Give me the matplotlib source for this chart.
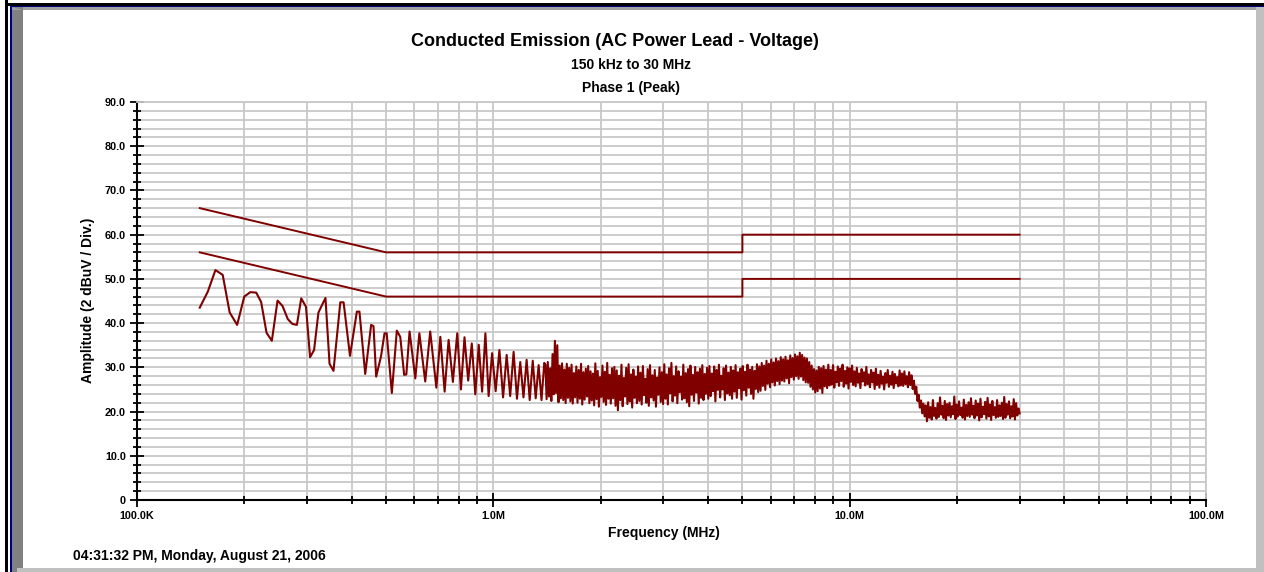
import numpy as np
import matplotlib
matplotlib.use("Agg")
import matplotlib.pyplot as plt
from matplotlib.patches import Rectangle, Polygon
from matplotlib.ticker import FixedLocator, FixedFormatter, NullFormatter

plt.rcParams['font.family'] = ['Liberation Sans', 'DejaVu Sans']
plt.rcParams['font.weight'] = 'bold'

W, H = 1264, 572
RED = '#800000'
GRID = '#c8c8c8'

# limit lines (Hz, dBuV)
limit_freq = [150e3, 500e3, 5e6, 5e6, 30e6]
limit_qp = [66, 56, 56, 60, 60]
limit_avg = [56, 46, 46, 50, 50]

# measured trace, low band (kHz, dBuV)
low_khz = [150, 158, 166, 174, 182, 191, 200, 208, 216, 223,
           231, 239, 248, 256, 265, 273, 281, 289, 298, 306,
           314, 323, 338, 347, 356, 372, 380, 396, 414, 421,
           437, 454, 461, 469, 484, 495, 502, 519, 536, 548,
           562, 570, 582, 604, 620, 644, 665, 692, 710, 730,
           749, 770, 792, 811, 830, 850, 870, 890, 910, 930,
           950, 970, 992, 1015, 1040, 1065, 1090, 1115, 1140, 1165,
           1190, 1215, 1240, 1265, 1290, 1315, 1340, 1365, 1390]
low_db = [43.5, 47.1, 52.0, 50.9, 42.4, 39.6, 46.0, 47.0, 46.9, 44.8,
          37.8, 36.0, 45.1, 43.9, 40.9, 39.8, 39.6, 45.6, 43.7, 32.3,
          33.9, 42.4, 45.7, 30.8, 29.2, 44.7, 44.7, 32.6, 42.6, 42.6,
          28.5, 39.6, 39.3, 27.9, 32.5, 37.7, 37.7, 24.2, 38.3, 36.9,
          28.3, 28.4, 38.1, 27.5, 37.7, 26.8, 38.1, 25.4, 36.9, 24.5,
          36.2, 26.7, 37.7, 25.0, 36.8, 27.0, 35.4, 23.9, 35.1, 24.5,
          37.7, 23.5, 33.2, 24.6, 33.9, 23.2, 32.8, 23.5, 33.5, 22.9,
          31.2, 23.2, 31.7, 22.6, 31.5, 23.0, 30.5, 22.6, 31.0]

# measured trace, dense band 1.4 MHz .. 30 MHz (sweep points)
dense_start, dense_stop = 1.4e6, 30e6
dense_db = [
    30.6, 22.8, 31.2, 23.4, 29.8, 22.4, 33.0, 23.9, 36.0, 24.2, 35.0, 22.1, 30.4, 23.0, 30.9, 22.6, 29.5, 21.9, 30.8, 23.1,
    29.9, 22.3, 30.6, 21.8, 28.7, 23.2, 30.2, 22.0, 29.4, 22.9, 30.8, 21.6, 28.9, 22.7, 29.7, 23.4, 30.3, 21.9, 29.1, 22.5,
    28.6, 21.4, 30.9, 22.8, 29.2, 21.1, 27.8, 23.3, 30.4, 22.2, 29.0, 21.5, 31.0, 22.9, 28.3, 21.8, 29.8, 23.0, 30.1, 21.3,
    29.3, 20.3, 28.1, 22.6, 30.6, 21.2, 27.6, 23.4, 29.9, 21.7, 30.7, 22.3, 28.4, 20.9, 29.5, 23.1, 27.9, 21.9, 30.2, 22.4,
    28.8, 21.6, 30.3, 23.7, 27.4, 22.0, 29.6, 21.3, 30.5, 23.2, 28.2, 22.5, 29.4, 21.1, 27.7, 23.8, 30.0, 22.2, 28.9, 21.7,
    30.7, 22.9, 28.4, 21.6, 29.8, 24.1, 31.0, 22.3, 28.0, 23.6, 30.2, 21.9, 29.1, 24.4, 27.9, 22.7, 30.6, 23.0, 28.7, 22.1,
    29.6, 21.2, 30.4, 23.8, 28.3, 22.4, 30.1, 24.3, 28.9, 21.8, 29.7, 23.1, 30.5, 22.6, 28.5, 24.0, 29.9, 22.9, 30.3, 23.5,
    28.6, 24.6, 30.2, 22.3, 29.4, 24.9, 30.6, 23.2, 28.1, 25.0, 29.8, 22.6, 30.4, 24.1, 28.8, 23.7, 30.1, 22.9, 29.3, 24.5,
    30.5, 23.1, 28.9, 25.3, 29.7, 22.7, 30.3, 24.8, 29.0, 23.6, 30.6, 25.4, 29.5, 24.0, 30.1, 22.9, 29.2, 25.1, 30.7, 24.4,
    30.2, 24.7, 31.0, 25.8, 30.4, 24.9, 31.5, 26.3, 30.8, 25.5, 31.8, 26.6, 31.1, 25.9, 32.0, 26.9, 31.4, 26.2, 32.3, 27.0,
    31.8, 26.8, 32.4, 27.5, 31.6, 26.4, 32.7, 27.8, 32.1, 27.2, 32.9, 28.0, 32.5, 27.4, 33.3, 27.9, 32.8, 27.1, 32.2, 26.6,
    32.0, 26.5, 31.2, 25.6, 30.4, 25.0, 29.6, 24.3, 29.3, 24.6, 30.1, 25.2, 29.8, 24.2, 30.3, 25.7, 29.5, 25.3, 30.6, 25.9,
    29.4, 26.1, 30.5, 25.4, 29.0, 26.6, 30.2, 25.8, 29.7, 26.9, 30.6, 25.6, 29.2, 26.3, 30.0, 25.2, 29.8, 26.7, 30.4, 26.0,
    29.1, 25.7, 29.9, 26.5, 28.6, 25.3, 29.6, 26.8, 28.9, 25.9, 30.1, 26.2, 28.4, 25.5, 29.4, 26.6, 28.8, 25.1, 29.7, 26.0,
    28.3, 25.4, 29.2, 26.3, 27.9, 25.0, 28.7, 26.5, 29.4, 25.6, 28.1, 26.1, 29.0, 25.3, 28.5, 26.4, 27.8, 25.7, 29.3, 25.9,
    28.6, 25.8, 29.1, 26.2, 28.0, 25.5, 28.9, 26.0, 28.2, 25.1, 27.0, 24.0, 25.6, 22.4, 23.8, 20.9, 22.5, 19.6, 21.8, 18.9,
    21.4, 17.8, 22.1, 18.6, 21.0, 18.2, 22.6, 19.0, 20.8, 18.4, 21.9, 18.8, 23.2, 19.3, 21.3, 18.5, 22.4, 18.1, 21.7, 19.1,
    22.0, 18.7, 21.2, 19.4, 23.4, 18.3, 21.6, 18.9, 22.3, 19.2, 20.9, 18.6, 22.7, 18.2, 21.5, 19.0, 22.1, 18.8, 23.0, 19.3,
    21.3, 18.5, 22.5, 19.1, 21.8, 18.0, 22.9, 18.7, 21.1, 19.4, 22.2, 18.4, 23.1, 18.9, 21.6, 18.1, 22.4, 19.2, 21.0, 18.6,
    22.6, 18.8, 21.4, 19.0, 22.0, 18.3, 23.3, 18.6, 21.7, 19.3, 22.3, 18.5, 21.2, 18.9, 22.8, 18.2, 21.9, 19.1, 20.7, 19.6,
]

x_major = [1e5, 1e6, 1e7, 1e8]
x_major_labels = ['100.0K', '1.0M', '10.0M', '100.0M']
y_major = [0, 10, 20, 30, 40, 50, 60, 70, 80, 90]
y_major_labels = ['0', '10.0', '20.0', '30.0', '40.0', '50.0', '60.0', '70.0', '80.0', '90.0']

freq = np.concatenate([np.array(low_khz) * 1e3,
                       np.geomspace(dense_start, dense_stop, len(dense_db))])
amp = np.concatenate([low_db, dense_db])


def fx(x):
    return x / W


def fy(y):
    return 1 - y / H


fig = plt.figure(figsize=(W / 100, H / 100), dpi=100)
fig.patch.set_facecolor('white')


def frame_rect(x0, y0, x1, y1, color):
    fig.add_artist(Rectangle((fx(x0), fy(y1)), fx(x1) - fx(x0), fy(y0) - fy(y1),
                             transform=fig.transFigure, facecolor=color,
                             edgecolor='none', zorder=0))


# window frame
frame_rect(5, 0, 8, H, 'black')
frame_rect(8, 3, W, 6, 'black')
frame_rect(10, 6, 12, H, '#000080')
frame_rect(10, 6, W, 7, '#000080')
frame_rect(12, 7, 1256, 10, '#a0a0a0')
frame_rect(12, 7, 23, H, '#808080')
frame_rect(17, 568, W, H, '#c0c0c0')
frame_rect(1256, 7, W, H, '#c0c0c0')
fig.add_artist(Polygon([(fx(12), fy(7)), (fx(23), fy(10)), (fx(12), fy(10))],
                       closed=True, transform=fig.transFigure,
                       facecolor='#a0a0a0', edgecolor='none', zorder=0))

ax = fig.add_axes([fx(137), fy(500), fx(1206) - fx(137), fy(102) - fy(500)])
ax.set_facecolor('white')
ax.set_xscale('log')
ax.set_xlim(1e5, 1e8)
ax.set_ylim(0, 90)

ax.plot(limit_freq, limit_qp, color=RED, lw=1.4, zorder=3)
ax.plot(limit_freq, limit_avg, color=RED, lw=1.4, zorder=3)
ax.plot(freq, amp, color=RED, lw=1.5, zorder=4)

ax.xaxis.set_major_locator(FixedLocator(x_major))
ax.xaxis.set_major_formatter(FixedFormatter(x_major_labels))
x_minor = [k * 10 ** e for e in range(5, 8) for k in range(2, 10)]
ax.xaxis.set_minor_locator(FixedLocator(x_minor))
ax.xaxis.set_minor_formatter(NullFormatter())
ax.yaxis.set_major_locator(FixedLocator(y_major))
ax.yaxis.set_major_formatter(FixedFormatter(y_major_labels))
ax.yaxis.set_minor_locator(FixedLocator(list(range(0, 91, 2))))

ax.grid(which='both', axis='both', color=GRID, lw=1.3)
ax.set_axisbelow(True)

ax.tick_params(which='major', direction='inout', length=10, width=1.3,
               labelsize=7.8, pad=3)
ax.tick_params(which='minor', direction='inout', length=6, width=1.3)
for lab in ax.get_xticklabels() + ax.get_yticklabels():
    lab.set_fontweight('bold')

for s in ['left', 'bottom']:
    ax.spines[s].set_color('black')
    ax.spines[s].set_linewidth(1.5)
for s in ['top', 'right']:
    ax.spines[s].set_color(GRID)
    ax.spines[s].set_linewidth(1.3)

fig.text(fx(615), fy(41), 'Conducted Emission (AC Power Lead - Voltage)',
         ha='center', va='center', fontsize=13, fontweight='bold')
fig.text(fx(631), fy(65), '150 kHz to 30 MHz', ha='center', va='center',
         fontsize=10, fontweight='bold')
fig.text(fx(631), fy(88), 'Phase 1 (Peak)', ha='center', va='center',
         fontsize=10, fontweight='bold')
fig.text(fx(664), fy(533), 'Frequency (MHz)', ha='center', va='center',
         fontsize=10, fontweight='bold')
fig.text(fx(88), fy(300), 'Amplitude (2 dBuV / Div.)', ha='center', va='center',
         rotation=90, fontsize=10, fontweight='bold')
fig.text(fx(73), fy(556), '04:31:32 PM, Monday, August 21, 2006',
         ha='left', va='center', fontsize=10, fontweight='bold')

fig.savefig('out.png', dpi=100)
